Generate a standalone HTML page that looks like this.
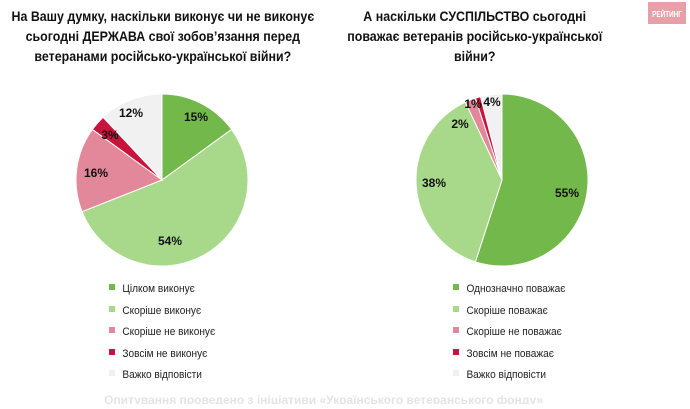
<!DOCTYPE html>
<html><head><meta charset="utf-8"><style>
body{margin:0;background:#fff;width:690px;height:404px;overflow:hidden;font-family:"Liberation Sans",sans-serif}
svg text{font-family:"Liberation Sans",sans-serif}
</style></head><body>
<svg id="s" width="690" height="404" viewBox="0 0 690 404" xmlns="http://www.w3.org/2000/svg">
<rect x="648" y="2" width="38" height="22" fill="#e8a0a8"/>
<text x="667" y="17" font-size="8" font-weight="bold" fill="#fff" text-anchor="middle" transform="translate(667,0) scale(0.8,1) translate(-667,0)">РЕЙТИНГ</text>
<g font-size="13.5" font-weight="bold" fill="#111" text-anchor="middle" transform="scale(0.92,1)">
<text x="177" y="21">На Вашу думку, наскільки виконує чи не виконує</text>
<text x="177" y="41">сьогодні ДЕРЖАВА свої зобов’язання перед</text>
<text x="177" y="61">ветеранами російсько-української війни?</text>
<text x="516" y="21">А наскільки СУСПІЛЬСТВО сьогодні</text>
<text x="516" y="41">поважає ветеранів російсько-української</text>
<text x="516" y="61">війни?</text>
</g>
<g id="p1"></g><g id="p2"></g>
<g font-size="12" font-weight="bold" fill="#111" text-anchor="middle">
<text x="196" y="121">15%</text><text x="170" y="245">54%</text><text x="96" y="177">16%</text><text x="110" y="139">3%</text><text x="131" y="117">12%</text>
<text x="567" y="197">55%</text><text x="434" y="187">38%</text><text x="460" y="128">2%</text><text x="473" y="108">1%</text><text x="492" y="106">4%</text>
</g>
<g font-size="11" fill="#222" transform="scale(0.92,1)">
<text x="133" y="292">Цілком виконує</text><text x="133" y="314">Скоріше виконує</text><text x="133" y="335">Скоріше не виконує</text><text x="133" y="357">Зовсім не виконує</text><text x="133" y="378">Важко відповісти</text>
<text x="507" y="292">Однозначно поважає</text><text x="507" y="314">Скоріше поважає</text><text x="507" y="335">Скоріше не поважає</text><text x="507" y="357">Зовсім не поважає</text><text x="507" y="378">Важко відповісти</text>
</g>
<g id="lg"></g>
<text x="104" y="404" font-size="12" fill="#e4e4e4" font-weight="bold">Опитування проведено з ініціативи «Українського ветеранського фонду»</text>
</svg>
<script>
var C=["#72b84a","#a8d98b","#e3879a","#c8143c","#f1f1f1"];
function pie(id,cx,cy,r,v){var g=document.getElementById(id),a=0,h="";
v.forEach(function(p,i){var b=a+p/100*2*Math.PI;
var x1=cx+r*Math.sin(a),y1=cy-r*Math.cos(a),x2=cx+r*Math.sin(b),y2=cy-r*Math.cos(b);
h+='<path d="M'+cx+' '+cy+'L'+x1+' '+y1+'A'+r+' '+r+' 0 '+(b-a>Math.PI?1:0)+' 1 '+x2+' '+y2+'Z" fill="'+C[i]+'" stroke="#fff" stroke-width="1"/>';a=b;});
g.innerHTML=h;}
pie("p1",162,180,86,[15,54,16,3,12]);
pie("p2",502,180,86,[55,38,2,1,4]);
var l="";[288,310,331,353,374].forEach(function(y,i){l+='<rect x="109" y="'+(y-4)+'" width="6" height="6" fill="'+C[i]+'"/><rect x="453" y="'+(y-4)+'" width="6" height="6" fill="'+C[i]+'"/>';});
document.getElementById("lg").innerHTML=l;
</script>
</body></html>
